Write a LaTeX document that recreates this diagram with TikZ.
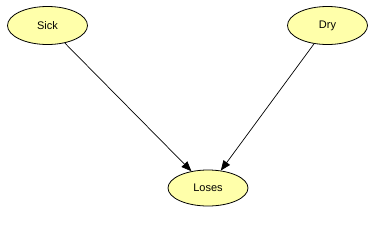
\documentclass[tikz,border=0pt]{standalone}
\usepackage{fontspec}
\setmainfont{Liberation Sans}
\usetikzlibrary{shapes.geometric,arrows.meta}
\definecolor{nodefill}{RGB}{255,255,170}
\begin{document}
\begin{tikzpicture}[x=1pt,y=-1pt,
  var/.style={ellipse,draw=black,line width=0.8pt,fill=nodefill,minimum width=80pt,minimum height=38pt,inner sep=0pt,font=\fontsize{11}{13}\selectfont},
  edge/.style={-{Triangle[length=10pt,width=8pt]},black,line width=0.7pt}]
\useasboundingbox (0,0) rectangle (391,234);
\node[var] (sick) at (47.5,25.5) {Sick};
\node[var] (dry) at (327.5,25.5) {Dry};
\node[var,minimum height=36pt] (loses) at (208,188) {Loses};
\draw[edge] (sick) -- (loses);
\draw[edge] (dry) -- (loses);
\end{tikzpicture}
\end{document}
